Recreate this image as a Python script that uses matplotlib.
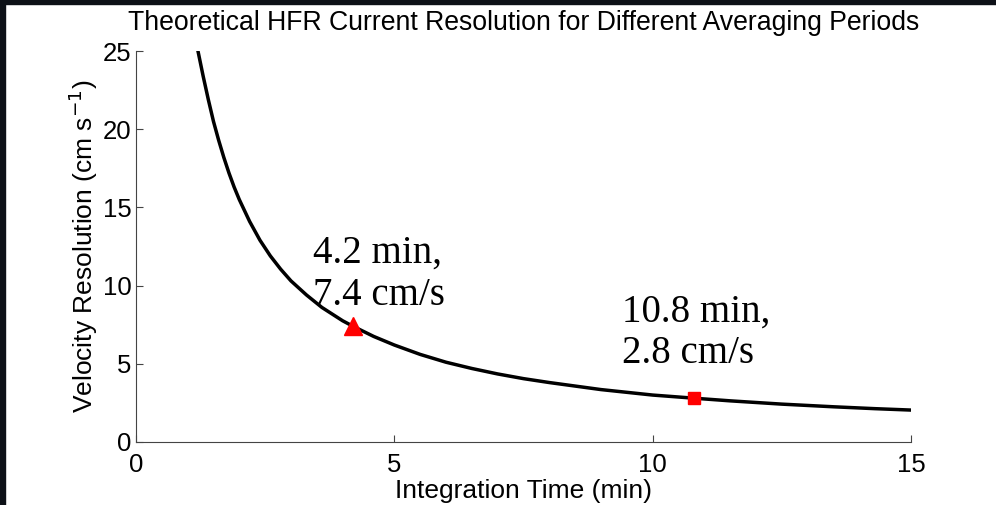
import matplotlib
matplotlib.use("Agg")
import matplotlib.pyplot as plt
from matplotlib.patches import Rectangle

# values
t_min = [1.2, 1.3, 1.4, 1.5, 1.6, 1.7, 1.8, 1.9, 2.0, 2.2, 2.4, 2.6, 2.8, 3.0, 3.3,
         3.6, 4.0, 4.2, 4.6, 5.0, 5.5, 6.0, 6.5, 7.0, 7.5, 8.0, 9.0, 10.0, 10.8,
         11.5, 12.5, 13.5, 14.3, 15.0]
vel = [25.0, 23.4, 21.9, 20.5, 19.3, 18.2, 17.2, 16.3, 15.5, 14.1, 12.9, 11.9,
       11.05, 10.3, 9.4, 8.6, 7.75, 7.4, 6.75, 6.2, 5.6, 5.1, 4.7, 4.35, 4.05,
       3.8, 3.35, 3.0, 2.8, 2.63, 2.42, 2.25, 2.13, 2.04]

pts_t = [4.2, 10.8]
pts_v = [7.4, 2.8]
pts_labels = ["4.2 min,\n7.4 cm/s", "10.8 min,\n2.8 cm/s"]
label_xy = [(3.42, 8.2), (9.4, 4.45)]

sans = ["Liberation Sans", "DejaVu Sans"]
serif = ["Liberation Serif", "DejaVu Serif"]

fig = plt.figure(figsize=(9.96, 5.05), dpi=100)
ax = fig.add_axes([0.1365, 0.1248, 0.7782, 0.7742])

ax.plot(t_min, vel, color="black", lw=2.5, zorder=2)
ax.plot(pts_t[0], pts_v[0], marker="^", color="red", ms=13, ls="none", zorder=3)
ax.plot(pts_t[1], pts_v[1], marker="s", color="red", ms=8.5, ls="none", zorder=3)

for txt, (x, y) in zip(pts_labels, label_xy):
    ax.text(x, y, txt, family=serif, fontsize=28, ha="left", va="bottom",
            linespacing=1.18)

ax.set_xlim(0, 15)
ax.set_ylim(0, 25)
ax.set_xticks([0, 5, 10, 15])
ax.set_yticks([0, 5, 10, 15, 20, 25])

for side in ["top", "right"]:
    ax.spines[side].set_visible(False)
for side in ["left", "bottom"]:
    ax.spines[side].set_color("#444444")
    ax.spines[side].set_linewidth(0.8)

ax.tick_params(direction="in", length=5, width=0.8, color="#444444",
               labelsize=18.5, labelcolor="black")
ax.tick_params(axis="x", pad=8)
ax.tick_params(axis="y", pad=3)
for lab in ax.get_xticklabels() + ax.get_yticklabels():
    lab.set_family(sans)

ax.set_title("Theoretical HFR Current Resolution for Different Averaging Periods",
             family=sans, fontsize=19.2, pad=15)
ax.set_xlabel("Integration Time (min)", family=sans, fontsize=19, labelpad=1.5)
ax.set_ylabel(r"Velocity Resolution (cm s$^{-1}$)", family=sans, fontsize=19,
              labelpad=2)

# dark frame strips along the top and left edge
fig.patches.append(Rectangle((0, 0), 5 / 996, 1, transform=fig.transFigure,
                             color="#0d1117", zorder=10))
fig.patches.append(Rectangle((0, 1 - 4 / 505), 1, 4 / 505, transform=fig.transFigure,
                             color="#0d1117", zorder=10))

fig.savefig("out.png", dpi=100)
